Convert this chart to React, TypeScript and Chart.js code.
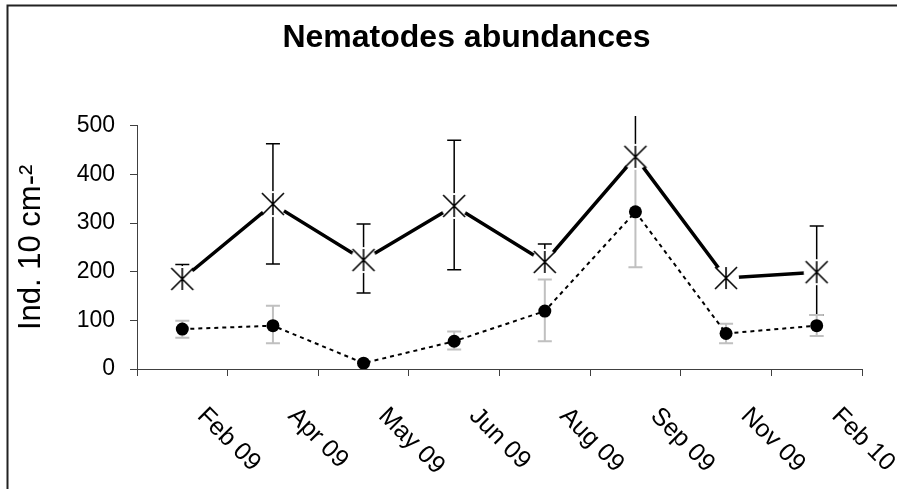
import React, { useEffect, useRef } from 'react';
import { Chart, registerables } from 'chart.js';

Chart.register(...registerables);

const categories = ['Feb 09', 'Apr 09', 'May 09', 'Jun 09', 'Aug 09', 'Sep 09', 'Nov 09', 'Feb 10'];
const crossValues = [185, 339, 224, 335, 220, 436, 187, 199];
const crossErrPlus = [30, 124, 74, 135, 37, 100, 0, 95];
const crossErrMinus = [0, 123, 68, 131, 0, 0, 0, 88];
const dotValues = [82, 89, 12, 57, 119, 323, 73, 89];
const dotErrPlus = [17, 41, 0, 20, 65, 114, 20, 22];
const dotErrMinus = [18, 36, 0, 17, 62, 114, 20, 21];
const yTicks = [0, 100, 200, 300, 400, 500];
const titleText = 'Nematodes abundances';
const yTitle = 'Ind. 10 cm-²';
const errClipValue = 520;

const FONT = '"Liberation Sans", Arial, sans-serif';

function makeStarMarker(): HTMLCanvasElement {
  const c = document.createElement('canvas');
  c.width = 30;
  c.height = 30;
  const g = c.getContext('2d')!;
  g.translate(15, 15);
  g.fillStyle = '#ffffff';
  g.beginPath();
  g.arc(0, 0, 13, 0, Math.PI * 2);
  g.fill();
  g.strokeStyle = '#000000';
  g.lineWidth = 1.6;
  g.beginPath();
  g.moveTo(-11, -11);
  g.lineTo(11, 11);
  g.moveTo(11, -11);
  g.lineTo(-11, 11);
  g.moveTo(0, -11);
  g.lineTo(0, 11);
  g.stroke();
  return c;
}

const errorBarsPlugin = {
  id: 'errorBars',
  beforeDatasetsDraw(chart: any) {
    const { ctx, scales } = chart;
    const xs = scales.x;
    const ys = scales.y;
    const clipTop = ys.getPixelForValue(errClipValue);
    ctx.save();
    ctx.beginPath();
    ctx.rect(0, clipTop, chart.width, chart.height - clipTop);
    ctx.clip();
    const drawBars = (vals: number[], plus: number[], minus: number[], color: string, lw: number) => {
      ctx.strokeStyle = color;
      ctx.lineWidth = lw;
      vals.forEach((v, i) => {
        const x = xs.getPixelForValue(i);
        const yc = ys.getPixelForValue(v);
        if (plus[i] > 0) {
          const yt = ys.getPixelForValue(v + plus[i]);
          ctx.beginPath();
          ctx.moveTo(x, yc);
          ctx.lineTo(x, yt);
          ctx.moveTo(x - 7, yt);
          ctx.lineTo(x + 7, yt);
          ctx.stroke();
        }
        if (minus[i] > 0) {
          const yb = ys.getPixelForValue(v - minus[i]);
          ctx.beginPath();
          ctx.moveTo(x, yc);
          ctx.lineTo(x, yb);
          ctx.moveTo(x - 7, yb);
          ctx.lineTo(x + 7, yb);
          ctx.stroke();
        }
      });
    };
    drawBars(crossValues, crossErrPlus, crossErrMinus, '#000000', 1.5);
    drawBars(dotValues, dotErrPlus, dotErrMinus, '#c0c0c0', 2);
    ctx.restore();
  },
};

const frameAndLabelsPlugin = {
  id: 'frameAndLabels',
  beforeDraw(chart: any) {
    const { ctx } = chart;
    ctx.save();
    ctx.fillStyle = '#ffffff';
    ctx.fillRect(0, 0, chart.width, chart.height);
    ctx.strokeStyle = '#222222';
    ctx.lineWidth = 2;
    ctx.beginPath();
    ctx.moveTo(7.5, chart.height + 5);
    ctx.lineTo(7.5, 5.5);
    ctx.lineTo(chart.width + 5, 5.5);
    ctx.stroke();
    ctx.restore();
  },
  afterDraw(chart: any) {
    const { ctx, scales, chartArea } = chart;
    const xs = scales.x;
    ctx.save();
    ctx.fillStyle = '#000000';
    ctx.font = 'bold 32px ' + FONT;
    ctx.textAlign = 'center';
    ctx.textBaseline = 'alphabetic';
    ctx.fillText(titleText, 466.5, 47);
    ctx.font = '25px ' + FONT;
    ctx.textAlign = 'left';
    categories.forEach((lab, i) => {
      const x = xs.getPixelForValue(i);
      ctx.save();
      ctx.translate(x + 14, chartArea.bottom + 48);
      ctx.rotate(Math.PI / 4);
      ctx.fillText(lab, 0, 0);
      ctx.restore();
    });
    ctx.restore();
  },
};

export default function App() {
  const ref = useRef<HTMLCanvasElement>(null);
  useEffect(() => {
    if (!ref.current) return;
    const star = makeStarMarker();
    const chart = new Chart(ref.current, {
      type: 'line',
      data: {
        labels: categories,
        datasets: [
          {
            label: 'cross',
            data: crossValues,
            borderColor: '#000000',
            borderWidth: 3.5,
            pointStyle: star as any,
            pointRadius: 13,
            order: 0,
            tension: 0,
            fill: false,
          },
          {
            label: 'dot',
            data: dotValues,
            borderColor: '#000000',
            borderWidth: 2,
            borderDash: [4, 4],
            pointStyle: 'circle',
            pointRadius: 6.5,
            pointBackgroundColor: '#000000',
            pointBorderWidth: 0,
            order: 1,
            tension: 0,
            fill: false,
          },
        ],
      },
      options: {
        animation: false,
        responsive: false,
        maintainAspectRatio: false,
        layout: { padding: { left: 0, right: 35, top: 125.7, bottom: 0 } },
        plugins: {
          legend: { display: false },
          tooltip: { enabled: false },
          title: { display: false },
        },
        scales: {
          x: {
            type: 'category',
            offset: true,
            grid: { offset: true, drawOnChartArea: false, tickLength: 7, color: '#404040' },
            border: { color: '#404040', width: 1 },
            ticks: { display: false },
            afterFit: (s: any) => {
              s.height = 120;
            },
          },
          y: {
            min: 0,
            max: 500,
            afterBuildTicks: (s: any) => {
              s.ticks = yTicks.map((v) => ({ value: v }));
            },
            grid: { drawOnChartArea: false, tickLength: 7, color: '#404040' },
            border: { color: '#404040', width: 1 },
            ticks: {
              color: '#000000',
              padding: 15,
              font: { family: FONT, size: 23 },
            },
            title: {
              display: true,
              text: yTitle,
              color: '#000000',
              font: { family: FONT, size: 31 },
              padding: { top: 12.4, bottom: 0 },
            },
            afterFit: (s: any) => {
              s.width = 137;
            },
          },
        },
      },
      plugins: [frameAndLabelsPlugin, errorBarsPlugin],
    });
    return () => chart.destroy();
  }, []);
  return (
    <div style={{ position: 'fixed', left: 0, top: 0, width: 897, height: 489, background: '#fff' }}>
      <canvas ref={ref} width={897} height={489} style={{ width: 897, height: 489, display: 'block' }} />
    </div>
  );
}
